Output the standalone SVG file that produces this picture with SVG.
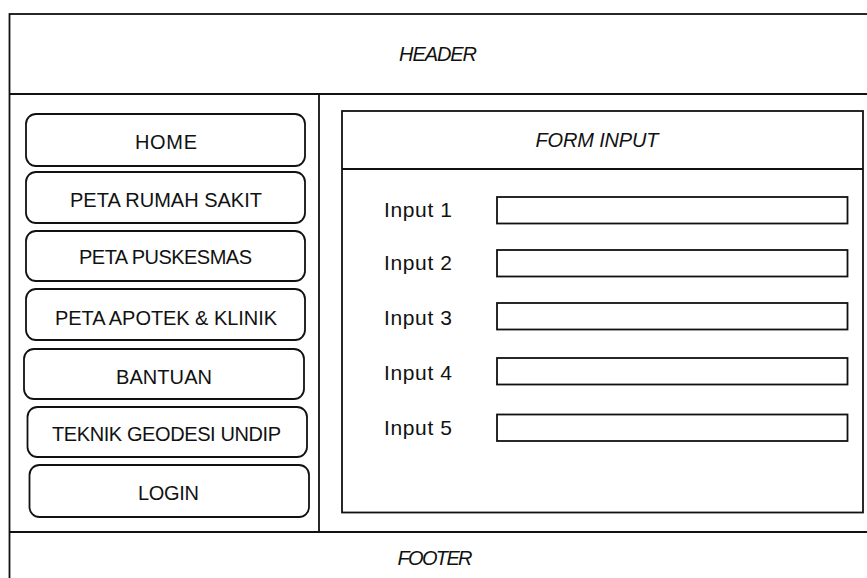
<svg xmlns="http://www.w3.org/2000/svg" width="867" height="578" viewBox="0 0 867 578">
  <style>
    .frame { fill: none; stroke: #111; stroke-width: 1.8; }
    .btn { fill: #fff; stroke: #111; stroke-width: 1.8; }
    .field { fill: #fff; stroke: #111; stroke-width: 1.8; }
    .label { font-family: "Liberation Sans", Arial, sans-serif; font-size: 20px; fill: #111; text-anchor: middle; }
    .title { font-family: "Liberation Sans", Arial, sans-serif; font-size: 20px; font-style: italic; fill: #111; text-anchor: middle; }
    .inlabel { font-family: "Liberation Sans", Arial, sans-serif; font-size: 21px; fill: #111; }
  </style>
  <rect width="867" height="578" fill="#fff"/>

  <!-- page layout: outer frame, header, sidebar, footer -->
  <g id="layout">
    <rect class="frame" x="9.5" y="14" width="880" height="580"/>
    <line class="frame" x1="9.5" y1="94" x2="867" y2="94"/>
    <line class="frame" x1="319" y1="94" x2="319" y2="532"/>
    <line class="frame" x1="9.5" y1="532" x2="867" y2="532"/>
  </g>

  <g id="header">
    <text class="title" x="438" y="61" textLength="78">HEADER</text>
  </g>

  <g id="footer">
    <text class="title" x="435" y="565" textLength="75">FOOTER</text>
  </g>

  <!-- navigation menu -->
  <g id="menu-home">
    <rect class="btn" x="26" y="114" width="279" height="52" rx="10"/>
    <text class="label" x="166" y="149" textLength="62">HOME</text>
  </g>
  <g id="menu-rumah-sakit">
    <rect class="btn" x="26" y="172" width="279" height="51" rx="10"/>
    <text class="label" x="166" y="207" textLength="192">PETA RUMAH SAKIT</text>
  </g>
  <g id="menu-puskesmas">
    <rect class="btn" x="26" y="231" width="279" height="50" rx="10"/>
    <text class="label" x="165.5" y="264" textLength="173">PETA PUSKESMAS</text>
  </g>
  <g id="menu-apotek">
    <rect class="btn" x="26" y="289" width="279" height="51" rx="10"/>
    <text class="label" x="166" y="325" textLength="222">PETA APOTEK &amp; KLINIK</text>
  </g>
  <g id="menu-bantuan">
    <rect class="btn" x="24" y="349" width="280" height="50" rx="10"/>
    <text class="label" x="164" y="384" textLength="96">BANTUAN</text>
  </g>
  <g id="menu-teknik">
    <rect class="btn" x="27.5" y="407" width="279.5" height="50" rx="10"/>
    <text class="label" x="166.5" y="441" textLength="229">TEKNIK GEODESI UNDIP</text>
  </g>
  <g id="menu-login">
    <rect class="btn" x="29.5" y="465" width="279.5" height="52" rx="10"/>
    <text class="label" x="168.5" y="500" textLength="61">LOGIN</text>
  </g>

  <!-- input form panel -->
  <g id="form">
    <rect class="frame" x="342" y="111" width="521" height="401.5"/>
    <line class="frame" x1="342" y1="169" x2="863" y2="169"/>
    <text class="title" x="597" y="147" textLength="123">FORM INPUT</text>
  </g>
  <g id="input-1">
    <text class="inlabel" x="384" y="217" textLength="68">Input 1</text>
    <rect class="field" x="497" y="197" width="350.5" height="26.5"/>
  </g>
  <g id="input-2">
    <text class="inlabel" x="384" y="270" textLength="68">Input 2</text>
    <rect class="field" x="497" y="250" width="350.5" height="26.5"/>
  </g>
  <g id="input-3">
    <text class="inlabel" x="384" y="324.5" textLength="68">Input 3</text>
    <rect class="field" x="497" y="303" width="350.5" height="26.5"/>
  </g>
  <g id="input-4">
    <text class="inlabel" x="384" y="379.5" textLength="68">Input 4</text>
    <rect class="field" x="497" y="358" width="350.5" height="26.5"/>
  </g>
  <g id="input-5">
    <text class="inlabel" x="384" y="434.5" textLength="68">Input 5</text>
    <rect class="field" x="497" y="414.5" width="350.5" height="26.5"/>
  </g>
</svg>
